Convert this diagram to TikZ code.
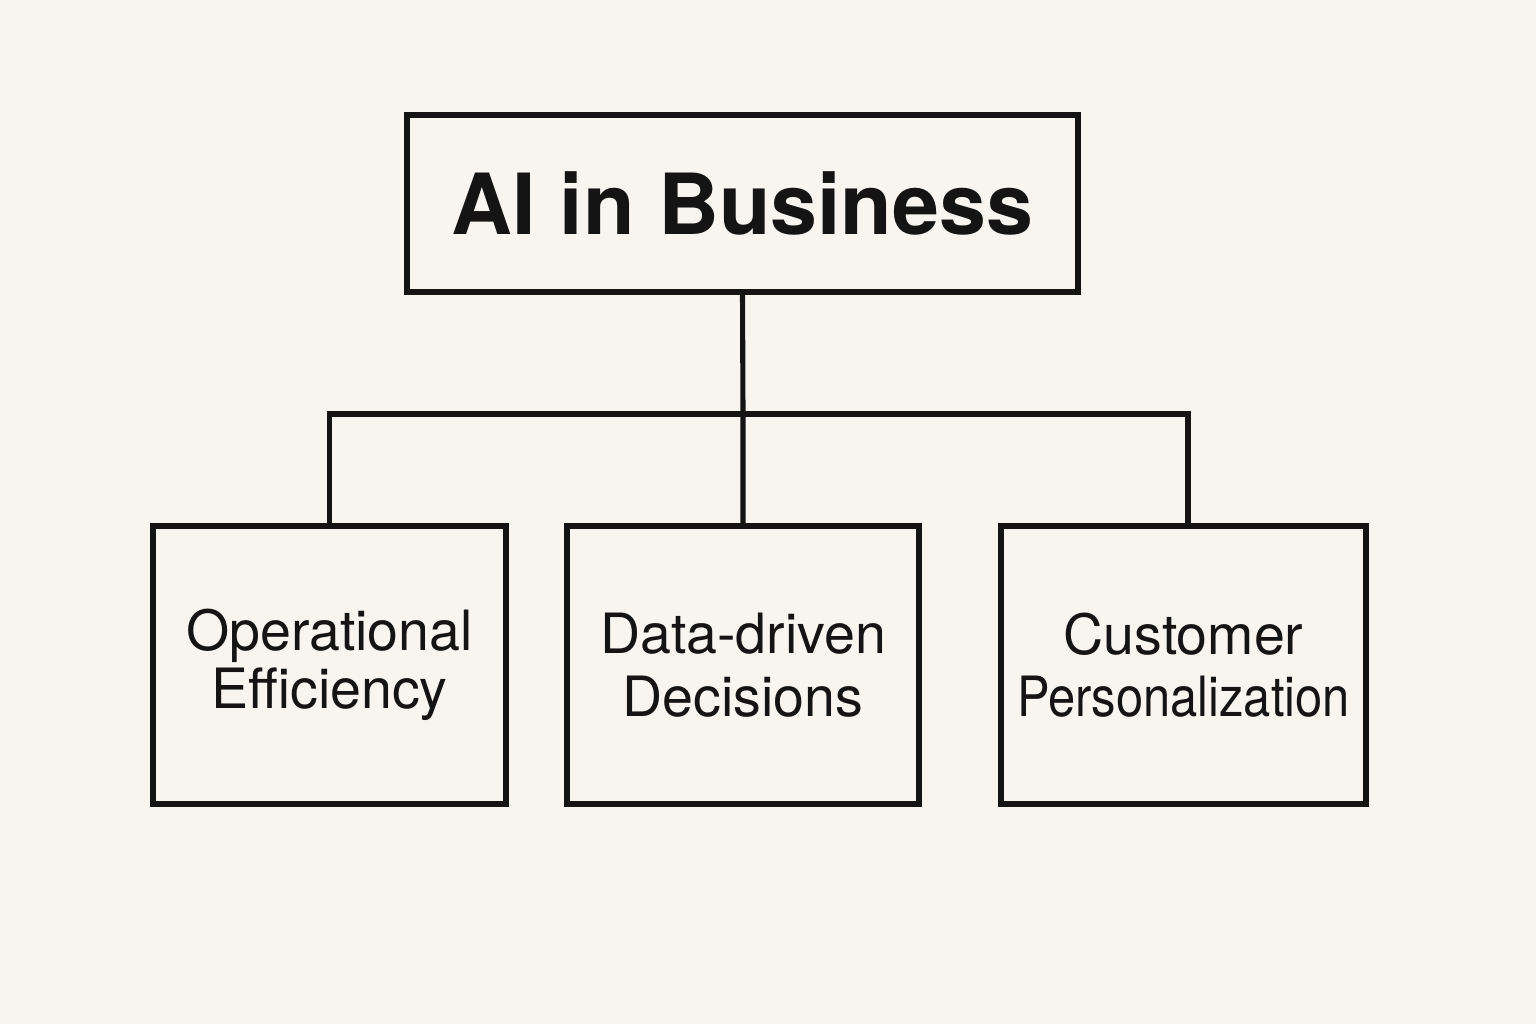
\documentclass[tikz,border=0pt]{standalone}
\usepackage{fontspec}
\usepackage{graphicx}
\setmainfont{TeX Gyre Heros}
\usetikzlibrary{positioning}

\definecolor{paper}{HTML}{F8F5F0}
\definecolor{ink}{HTML}{141414}

\newlength\boxH
\setlength\boxH{27.8mm}
\newlength\lineW
\setlength\lineW{1.45pt}

\tikzset{
  topic/.style={draw=ink, line width=\lineW, text=ink, minimum width=67.1mm,
    minimum height=17.7mm, font=\bfseries\fontsize{24}{28}\selectfont},
  branch/.style={draw=ink, line width=\lineW, text=ink, minimum height=\boxH,
    inner xsep=0pt, align=center, font=\fontsize{15.8}{17.8}\selectfont},
  link/.style={draw=ink, line width=\lineW, line cap=rect}
}

\begin{document}
\begin{tikzpicture}
    \fill[paper] (0,0) rectangle (15.36,10.24);
    \useasboundingbox (0,0) rectangle (15.36,10.24);

    \node[topic] (title) at (7.425,8.205) {AI in Business};

    \node[branch, minimum width=35.3mm] (ops) at (3.295,3.59) {\raisebox{-0.5mm}{Operational}\\Efficiency};
    \node[branch, minimum width=35.2mm] (data) at (7.43,3.59) {Data-driven\\Decisions};
    \node[branch, minimum width=36.5mm] (cust) at (11.835,3.59) {Customer\\\scalebox{0.88}[1]{Personalization}};

    % tree connectors
    \coordinate (join) at (7.43,6.10);
    \draw[link] (title.south) -- (join) -- (data.north);
    \draw[link] (ops.north) |- (join) -| ([xshift=0.45mm]cust.north);
\end{tikzpicture}
\end{document}
